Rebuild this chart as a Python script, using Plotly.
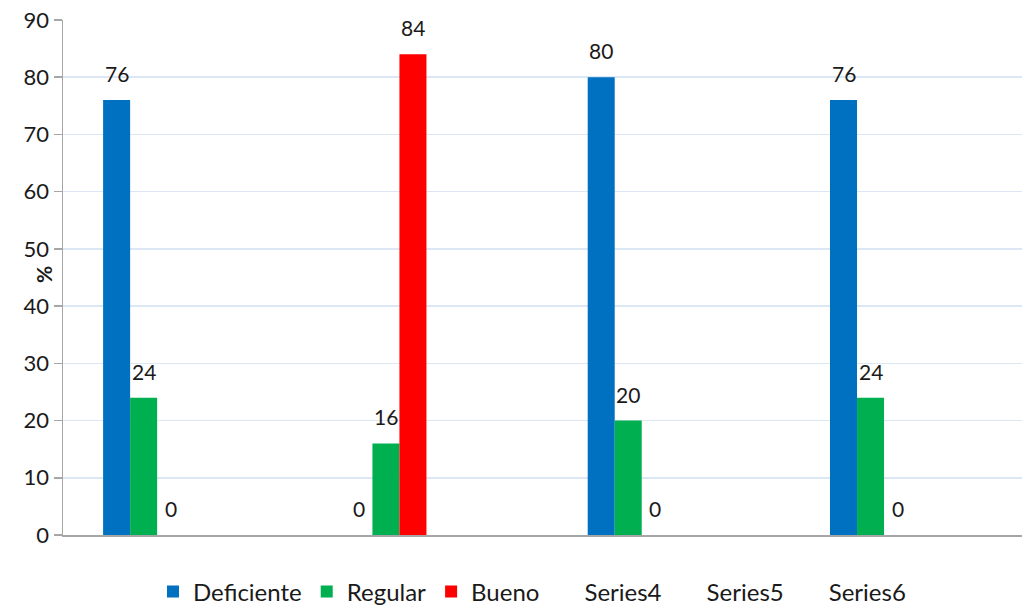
import plotly.graph_objects as go

categories = [1, 2, 3, 4]
series_names = ["Deficiente", "Regular", "Bueno", "Series4", "Series5", "Series6"]
deficiente = [76, 0, 80, 76]
regular = [24, 16, 20, 24]
bueno = [0, 84, 0, 0]
series4 = [None, None, None, None]
series5 = [None, None, None, None]
series6 = [None, None, None, None]
y_ticks = [0, 10, 20, 30, 40, 50, 60, 70, 80, 90]

colors = ["#0070C0", "#00B050", "#FF0000", "rgba(0,0,0,0)", "rgba(0,0,0,0)", "rgba(0,0,0,0)"]
all_values = [deficiente, regular, bueno, series4, series5, series6]

W, H = 1022, 609
ML, MR, MT, MB = 63, 0, 20, 74
plot_w = W - ML - MR
plot_h = H - MT - MB
cat_px = 242.3
x_lo = 0.5
x_hi = x_lo + plot_w / cat_px
bargap = 0.331
bar_px = cat_px * (1 - bargap) / len(series_names)

FONT = "Lato"
TXT = "#1a1a1a"

fig = go.Figure()
for name, vals, col in zip(series_names, all_values, colors):
    fig.add_trace(go.Bar(
        x=categories, y=vals, name=name,
        marker=dict(color=col, line=dict(width=0)),
        hoverinfo="skip",
    ))

annotations = []
n = len(series_names)
for i, vals in enumerate(all_values):
    for c, v in zip(categories, vals):
        if v is None:
            continue
        annotations.append(dict(
            x=c, y=v, xref="x", yref="y", text=str(v), showarrow=False,
            xanchor="center", yanchor="bottom",
            xshift=(i - (n - 1) / 2) * bar_px, yshift=12,
            font=dict(family=FONT, size=21, color=TXT),
        ))

annotations.append(dict(
    x=-(ML - 44) / plot_w, y=0.505, xref="paper", yref="paper",
    text="<b>%</b>", showarrow=False, textangle=-90,
    xanchor="center", yanchor="middle",
    font=dict(family=FONT, size=21, color=TXT),
))

fig.update_layout(
    width=W, height=H,
    margin=dict(l=ML, r=MR, t=MT, b=MB, autoexpand=False),
    paper_bgcolor="white", plot_bgcolor="white",
    barmode="group", bargap=bargap, bargroupgap=0,
    font=dict(family=FONT, size=21, color=TXT),
    showlegend=True,
    legend=dict(
        orientation="h", x=(532 - ML) / plot_w, xanchor="center",
        y=-(592 - (H - MB)) / plot_h, yanchor="middle",
        font=dict(family=FONT, size=24, color=TXT),
        itemwidth=30, traceorder="normal",
    ),
    xaxis=dict(
        range=[x_lo, x_hi], showticklabels=False, ticks="",
        showgrid=False, zeroline=False, automargin=False,
        showline=True, linecolor="#A6A6A6", linewidth=1.5,
    ),
    yaxis=dict(
        range=[0, 90], tickvals=y_ticks, ticks="outside", ticklen=8,
        tickcolor="#A6A6A6", tickwidth=1.5, automargin=False,
        ticklabeloverflow="allow",
        showline=True, linecolor="#A6A6A6", linewidth=1.5,
        showgrid=True, gridcolor="#DCE7F5", gridwidth=1.5,
        zeroline=False,
        tickfont=dict(family=FONT, size=22, color=TXT),
    ),
    annotations=annotations,
)

fig.write_html(
    "out.html",
    config={"displayModeBar": False, "staticPlot": True},
    post_script="document.body.style.margin='0';document.body.style.overflow='hidden';",
)
